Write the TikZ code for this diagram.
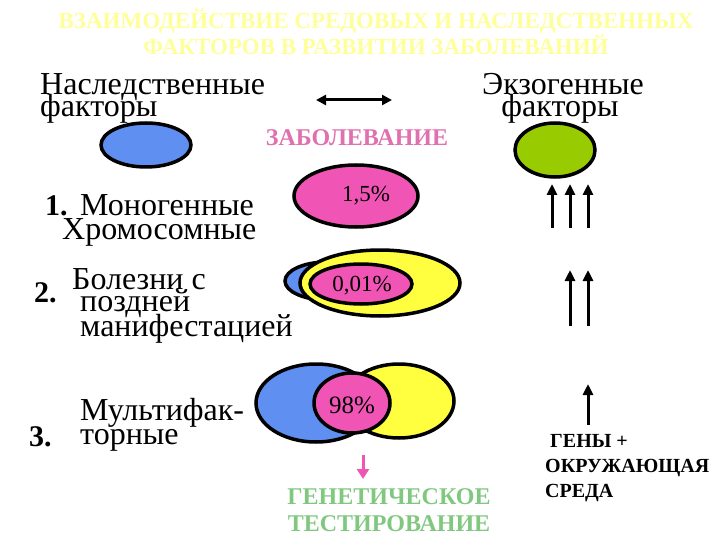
\documentclass[tikz,border=0pt]{standalone}
\usepackage{fontspec}
\setmainfont{Liberation Serif}
\usetikzlibrary{arrows.meta,shapes.geometric}
\definecolor{ttl}{HTML}{FFFF99}
\definecolor{pinkc}{HTML}{F055B5}
\definecolor{bluec}{HTML}{5F8FF0}
\definecolor{yelc}{HTML}{FFFF40}
\definecolor{grnc}{HTML}{99CC00}
\definecolor{pinktxt}{HTML}{E070B0}
\definecolor{grntxt}{HTML}{80C880}
\tikzset{
  blob/.style={draw=black, line width=3.5pt, ellipse, inner sep=0pt},
  bigtxt/.style={font=\fontsize{32}{22}\selectfont, align=left, inner sep=0pt},
  numtxt/.style={font=\fontsize{30}{30}\selectfont\bfseries, inner sep=0pt},
  pcttxt/.style={font=\fontsize{23}{23}\selectfont, inner sep=0pt},
  upar/.style={line width=3pt, -{Triangle[length=11pt,width=10pt]}},
}
\begin{document}
\begin{tikzpicture}[x=1pt,y=-1pt]
\useasboundingbox (0,0) rectangle (720,540);
% title
\node[text=ttl, font=\fontsize{23}{23}\selectfont\bfseries, align=center] (title) at (376,32)
  {ВЗАИМОДЕЙСТВИЕ СРЕДОВЫХ И НАСЛЕДСТВЕННЫХ\\ФАКТОРОВ В РАЗВИТИИ ЗАБОЛЕВАНИЙ};
% headers
\node[bigtxt, anchor=base west] (her) at (40,95) {Наследственные};
\node[bigtxt, anchor=base west] (her2) at (40,117) {факторы};
\node[bigtxt, anchor=base] (exo) at (563,95) {Экзогенные};
\node[bigtxt, anchor=base] (exo2) at (560,117) {факторы};
\coordinate (dl) at (316,100);
\coordinate (dr) at (392,100);
\draw[line width=3pt, {Triangle[length=10pt,width=10pt]}-{Triangle[length=10pt,width=10pt]}] (dl) -- (dr);
\node[blob, fill=bluec, minimum width=90pt, minimum height=44pt] (hb) at (146,145) {};
\node[blob, fill=grnc, minimum width=80pt, minimum height=54pt] (eg) at (555,150) {};
\node[text=pinktxt, font=\fontsize{24}{24}\selectfont\bfseries, inner sep=0pt] (dis) at (357,138) {ЗАБОЛЕВАНИЕ};
% row 1
\node[blob, fill=pinkc, minimum width=124pt, minimum height=62pt] (p1) at (356,196) {};
\node[pcttxt] (p1t) at (366,196) {1,5\%};
\node[numtxt, anchor=base west] (n1) at (45,215) {1.};
\node[bigtxt, anchor=base west] (r1a) at (80,215) {Моногенные};
\node[bigtxt, anchor=base west] (r1b) at (62,240) {Хромосомные};
% row 2
\node[blob, fill=bluec, minimum width=84pt, minimum height=38pt] (b2) at (327,281) {};
\node[blob, fill=yelc, minimum width=160pt, minimum height=66pt] (y2) at (380,283) {};
\node[blob, fill=pinkc, minimum width=102pt, minimum height=40pt] (p2) at (361,284) {};
\node[pcttxt] (p2t) at (362,286) {0,01\%};
\node[numtxt, anchor=base west] (n2) at (34,302) {2.};
\node[bigtxt, anchor=base west] (r2a) at (72,289) {Болезни с};
\node[bigtxt, anchor=base west] (r2b) at (80,311) {поздней};
\node[bigtxt, anchor=base west] (r2c) at (80,336) {манифестацией};
% row 3
\node[blob, fill=bluec, minimum width=120pt, minimum height=78pt] (b3) at (316,403) {};
\node[blob, fill=yelc, minimum width=110pt, minimum height=74pt] (y3) at (399,401) {};
\node[blob, fill=pinkc, minimum width=76pt, minimum height=60pt] (p3) at (352,403) {};
\node[font=\fontsize{25}{25}\selectfont, inner sep=0pt] (p3t) at (352,405) {98\%};
\node[numtxt, anchor=base west] (n3) at (29,446) {3.};
\node[bigtxt, anchor=base west] (r3a) at (80,420) {Мультифак-};
\node[bigtxt, anchor=base west] (r3b) at (80,444) {торные};
% genetic testing
\coordinate (ga) at (363,455);
\coordinate (gb) at (363,479);
\node[text=grntxt, font=\fontsize{24}{27}\selectfont\bfseries, align=center, inner sep=0pt] (gt) at (389,510) {ГЕНЕТИЧЕСКОЕ\\ТЕСТИРОВАНИЕ};
\draw[pinkc, line width=3pt, -{Triangle[length=10pt,width=12pt]}] (ga) -- (gb);
% black arrows
\foreach \xx/\nm in {552/a, 570/b, 588/c} {
  \coordinate (s1\nm) at (\xx,228);
  \coordinate (e1\nm) at (\xx,184);
  \draw[upar] (s1\nm) -- (e1\nm);
}
\foreach \xx/\nm in {570/b, 588/c} {
  \coordinate (s2\nm) at (\xx,326);
  \coordinate (e2\nm) at (\xx,270);
  \draw[upar] (s2\nm) -- (e2\nm);
}
\coordinate (s3) at (588,425);
\coordinate (e3) at (588,384);
\draw[upar] (s3) -- (e3);
\node[font=\fontsize{20}{25}\selectfont\bfseries, anchor=base west, inner sep=0pt] (g1) at (550,447) {ГЕНЫ +};
\node[font=\fontsize{20}{25}\selectfont\bfseries, anchor=base west, inner sep=0pt] (g2) at (545,472) {ОКРУЖАЮЩАЯ};
\node[font=\fontsize{20}{25}\selectfont\bfseries, anchor=base west, inner sep=0pt] (g3) at (545,497) {СРЕДА};
\end{tikzpicture}
\end{document}
